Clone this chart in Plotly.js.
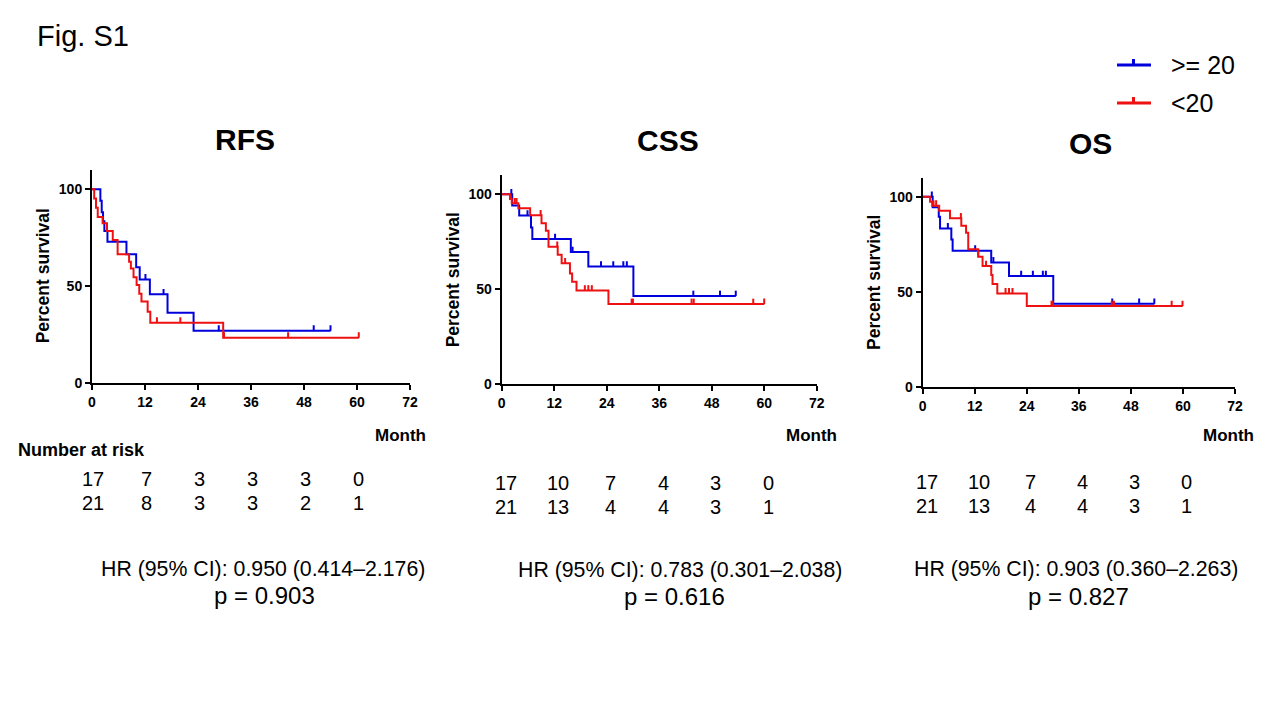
<!DOCTYPE html>
<html><head><meta charset="utf-8">
<script src="https://cdn.plot.ly/plotly-3.0.1.min.js"></script>
<style>html,body{margin:0;padding:0;background:#fff}#chart{width:1280px;height:720px}</style>
</head><body><div id="chart"></div>
<script>
// ---------- data ----------
const panelTitles = ['RFS', 'CSS', 'OS'];
const groupNames = ['>= 20', '<20'];
const xTickVals = [0, 12, 24, 36, 48, 60, 72];
const yTickVals = [0, 50, 100];
const riskTimes = [0, 12, 24, 36, 48, 60];

// RFS, group >= 20
const rfsHighTime = [0, 1.9, 2.2, 2.5, 2.8, 3.5, 7.8, 10.0, 10.8, 13.1, 17.1, 23.0, 54.0];
const rfsHighSurv = [100, 94.1, 88.2, 83.5, 78.4, 72.9, 66.4, 59.7, 53.4, 45.7, 36.2, 26.9, 26.9];
const rfsHighCens = [12.1, 16.2, 28.7, 50.2, 54.0];
// RFS, group <20
const rfsLowTime = [0, 0.5, 0.9, 1.3, 2.4, 3.4, 4.7, 5.8, 8.4, 8.8, 9.4, 10.1, 10.7, 11.2, 12.6, 13.2, 29.7, 60.4];
const rfsLowSurv = [100, 95.2, 90.5, 85.7, 82.4, 78.4, 73.8, 66.4, 62.6, 59.0, 54.5, 50.5, 46.0, 42.0, 36.7, 31.0, 23.3, 23.3];
const rfsLowCens = [14.7, 20.0, 29.9, 44.4, 60.4];

// CSS, group >= 20
const cssHighTime = [0, 2.4, 4.0, 6.7, 7.0, 15.8, 19.8, 30.1, 53.5];
const cssHighSurv = [100, 94.1, 88.8, 82.5, 76.4, 69.6, 61.9, 46.4, 46.4];
const cssHighCens = [2.2, 5.9, 12.2, 16.2, 22.7, 25.5, 27.8, 28.6, 43.8, 49.9, 53.5];
// CSS, group <20
const cssLowTime = [0, 1.9, 2.3, 3.8, 6.5, 9.1, 10.1, 10.7, 12.8, 13.7, 15.6, 16.1, 17.1, 24.4, 60.0];
const cssLowSurv = [100, 97.5, 95.3, 92.6, 88.9, 84.7, 80.8, 72.3, 68.1, 63.6, 58.3, 53.9, 49.3, 42.2, 42.2];
const cssLowCens = [3.0, 3.4, 8.9, 12.7, 14.5, 19.0, 19.8, 20.6, 29.7, 30.0, 43.4, 43.9, 57.5, 60.0];

// OS, group >= 20
const osHighTime = [0, 2.3, 3.7, 4.0, 6.6, 6.9, 15.8, 19.9, 30.1, 53.4];
const osHighSurv = [100, 94.4, 89.5, 83.3, 77.5, 71.6, 65.4, 58.2, 43.6, 43.6];
const osHighCens = [2.1, 5.8, 12.1, 16.3, 22.7, 25.4, 27.7, 28.4, 43.7, 49.9, 53.4];
// OS, group <20
const osLowTime = [0, 1.7, 2.2, 3.8, 6.3, 8.9, 10.0, 10.5, 12.8, 13.8, 15.8, 16.1, 17.2, 24.0, 59.9];
const osLowSurv = [100, 97.4, 95.3, 92.6, 88.6, 84.7, 81.0, 72.3, 68.4, 63.5, 58.8, 54.0, 49.1, 42.5, 42.5];
const osLowCens = [2.5, 3.1, 8.8, 12.8, 14.6, 19.1, 19.9, 20.7, 29.7, 30.0, 43.6, 44.1, 57.4, 59.9];

// Number at risk
const rfsRiskHigh = [17, 7, 3, 3, 3, 0];
const rfsRiskLow  = [21, 8, 3, 3, 2, 1];
const cssRiskHigh = [17, 10, 7, 4, 3, 0];
const cssRiskLow  = [21, 13, 4, 4, 3, 1];
const osRiskHigh  = [17, 10, 7, 4, 3, 0];
const osRiskLow   = [21, 13, 4, 4, 3, 1];

const hrTexts = ['HR (95% CI): 0.950 (0.414\u20132.176)', 'HR (95% CI): 0.783 (0.301\u20132.038)', 'HR (95% CI): 0.903 (0.360\u20132.263)'];
const pTexts = ['p = 0.903', 'p = 0.616', 'p = 0.827'];

// ---------- layout / style ----------
const W = 1280, H = 720;
const FONT = 'Liberation Sans, Arial, Helvetica, sans-serif';
const BLUE = '#0000dd', RED = '#ee1111';
const fx = p => p / W, fy = p => 1 - p / H;

const panels = [
  {x0: 92, x1: 410, yBot: 382.7, yTop: 170.0, title: [244.5, 140], month: [400, 435], risk: [479, 503], riskShift: 1, hr: [263, 569], p: [264.5, 595]},
  {x0: 501.7, x1: 816.7, yBot: 384.0, yTop: 175.3, title: [668, 141], month: [811.5, 435], risk: [483, 507], riskShift: 4, hr: [680, 570], p: [674, 596]},
  {x0: 922.7, x1: 1235, yBot: 386.7, yTop: 177.7, title: [1090, 144], month: [1228, 435], risk: [482, 506], riskShift: 4, hr: [1076, 569], p: [1078.5, 596]}
];

const series = [
  {high: [rfsHighTime, rfsHighSurv, rfsHighCens], low: [rfsLowTime, rfsLowSurv, rfsLowCens], risk: [rfsRiskHigh, rfsRiskLow]},
  {high: [cssHighTime, cssHighSurv, cssHighCens], low: [cssLowTime, cssLowSurv, cssLowCens], risk: [cssRiskHigh, cssRiskLow]},
  {high: [osHighTime, osHighSurv, osHighCens], low: [osLowTime, osLowSurv, osLowCens], risk: [osRiskHigh, osRiskLow]}
];

function survAt(times, surv, t) {
  let s = surv[0];
  for (let i = 0; i < times.length; i++) { if (times[i] <= t) s = surv[i]; }
  return s;
}

const CENS_H = 2.8;
const traces = [];
function addKM(d, color, xa, ya) {
  const [t, s, c] = d;
  traces.push({x: t, y: s, mode: 'lines', line: {shape: 'hv', color: color, width: 2}, xaxis: xa, yaxis: ya, showlegend: false, hoverinfo: 'skip', cliponaxis: false});
  traces.push({x: c, y: c.map(v => survAt(t, s, v)), mode: 'markers', marker: {size: 1, color: color},
    error_y: {type: 'data', symmetric: false, array: c.map(() => CENS_H), arrayminus: c.map(() => 0), width: 0, thickness: 2, color: color},
    xaxis: xa, yaxis: ya, showlegend: false, hoverinfo: 'skip', cliponaxis: false});
}

const layout = {
  width: W, height: H, margin: {l: 0, r: 0, t: 0, b: 0, pad: 0},
  paper_bgcolor: '#fff', plot_bgcolor: 'rgba(0,0,0,0)',
  font: {family: FONT, color: '#000'},
  showlegend: false, annotations: [], shapes: []
};

panels.forEach((pn, i) => {
  const sfx = i === 0 ? '' : String(i + 1);
  const xa = 'x' + sfx, ya = 'y' + sfx;
  addKM(series[i].high, BLUE, xa, ya);
  addKM(series[i].low, RED, xa, ya);
  const axCommon = {showgrid: false, zeroline: false, showline: true, linecolor: '#000', linewidth: 2,
    ticks: 'outside', ticklen: 5, tickwidth: 2, tickcolor: '#000',
    tickfont: {family: FONT, size: 14, weight: 700, color: '#000'}, fixedrange: true};
  layout['xaxis' + sfx] = Object.assign({}, axCommon, {domain: [fx(pn.x0), fx(pn.x1)], range: [0, 72], tickvals: xTickVals, anchor: ya});
  layout['yaxis' + sfx] = Object.assign({}, axCommon, {domain: [fy(pn.yBot), fy(pn.yTop)], range: [0, 110], tickvals: yTickVals, anchor: xa});

  const A = layout.annotations;
  A.push({text: panelTitles[i], xref: 'paper', yref: 'paper', x: fx(pn.title[0]), y: fy(pn.title[1]), xanchor: 'center', yanchor: 'middle', showarrow: false, font: {family: FONT, size: 30, weight: 700}});
  A.push({text: 'Percent survival', textangle: -90, xref: 'paper', yref: 'paper', x: fx(pn.x0 - 49), y: fy((pn.yBot + pn.yTop) / 2), xanchor: 'center', yanchor: 'middle', showarrow: false, font: {family: FONT, size: 17.5, weight: 700}});
  A.push({text: 'Month', xref: 'paper', yref: 'paper', x: fx(pn.month[0]), y: fy(pn.month[1]), xanchor: 'center', yanchor: 'middle', showarrow: false, font: {family: FONT, size: 17, weight: 700}});
  series[i].risk.forEach((row, r) => {
    row.forEach((v, k) => {
      A.push({text: String(v), xref: xa, yref: 'paper', x: riskTimes[k], xshift: pn.riskShift, y: fy(pn.risk[r]), xanchor: 'center', yanchor: 'middle', showarrow: false, font: {family: FONT, size: 20}});
    });
  });
  A.push({text: hrTexts[i], xref: 'paper', yref: 'paper', x: fx(pn.hr[0]), y: fy(pn.hr[1]), xanchor: 'center', yanchor: 'middle', showarrow: false, font: {family: FONT, size: 21.3}});
  A.push({text: pTexts[i], xref: 'paper', yref: 'paper', x: fx(pn.p[0]), y: fy(pn.p[1]), xanchor: 'center', yanchor: 'middle', showarrow: false, font: {family: FONT, size: 24}});
});

layout.annotations.push({text: 'Fig. S1', xref: 'paper', yref: 'paper', x: fx(35), y: fy(36), xanchor: 'left', yanchor: 'middle', showarrow: false, font: {family: FONT, size: 29}});
layout.annotations.push({text: 'Number at risk', xref: 'paper', yref: 'paper', x: fx(16), y: fy(450), xanchor: 'left', yanchor: 'middle', showarrow: false, font: {family: FONT, size: 18, weight: 700}});

// manual legend
[[groupNames[0], BLUE, 65], [groupNames[1], RED, 103]].forEach(([name, col, yy]) => {
  layout.shapes.push({type: 'line', xref: 'paper', yref: 'paper', x0: fx(1117), x1: fx(1151), y0: fy(yy), y1: fy(yy), line: {color: col, width: 3}});
  layout.shapes.push({type: 'line', xref: 'paper', yref: 'paper', x0: fx(1133.5), x1: fx(1133.5), y0: fy(yy), y1: fy(yy - 6), line: {color: col, width: 3}});
  layout.annotations.push({text: name, xref: 'paper', yref: 'paper', x: fx(1169), y: fy(yy), xanchor: 'left', yanchor: 'middle', showarrow: false, font: {family: FONT, size: 25}});
});

Plotly.newPlot('chart', traces, layout, {staticPlot: true, displayModeBar: false});
</script>
</body></html>
